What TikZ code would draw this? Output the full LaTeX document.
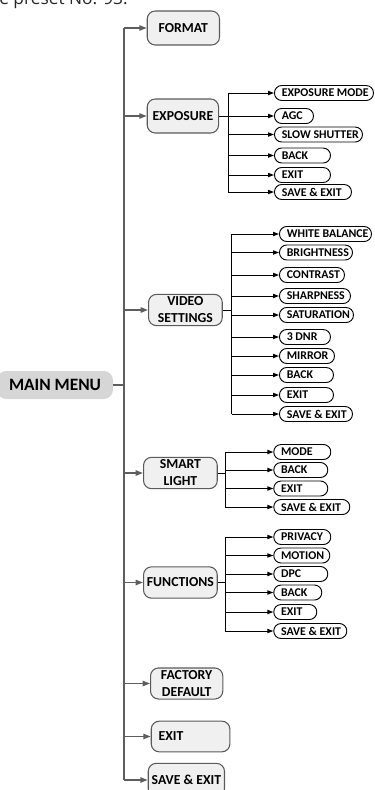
\documentclass[tikz,border=0pt]{standalone}
\usepackage{fontspec}
\setmainfont{Carlito}
\newfontfamily\pagefont{Open Sans}
\usetikzlibrary{arrows.meta}
\definecolor{boxgray}{HTML}{F0F0F0}
\definecolor{edgegray}{HTML}{5A5A5A}
\definecolor{menugray}{HTML}{D6D6D6}
\definecolor{trunkgray}{HTML}{5E5E5E}
\newcommand{\itemcol}[3]{%
  \foreach \y/\w/\lbl [count=\k] in {#3} {
    \pgfmathsetmacro{\tw}{\w*0.75-11}
    \node[itembox] (#1\k) at (#2,\y) {\makebox[\tw pt][l]{\lbl}};
  }
}
\newcommand{\fanout}[4]{%
  \draw[subline] (#1.east) -- (#1.east -| #2);
  \draw[subline] (#2 |- #31.west) -- (#2 |- #3#4.west);
  \foreach \k in {1,...,#4} {
    \draw[sublink] (#2 |- #3\k.west) -- (#3\k.west);
  }
}

\begin{document}
\begin{tikzpicture}[x=0.75pt,y=-0.75pt,
  topbox/.style={draw=edgegray,fill=boxgray,line width=0.8pt,rounded corners=6pt,
    anchor=west,inner sep=1pt,align=center,
    font=\fontsize{10.3}{12.75}\selectfont\bfseries},
  itembox/.style={draw,fill=white,line width=0.7pt,rounded corners=5.5pt,
    anchor=west,inner xsep=5.5pt,inner ysep=0pt,minimum height=11.25pt,
    font=\fontsize{8.9}{10}\selectfont\bfseries},
  mainbox/.style={fill=menugray,rounded corners=7pt,inner sep=0pt,
    minimum width=87pt,minimum height=21pt,
    font=\fontsize{13}{15}\selectfont\bfseries},
  trunkline/.style={draw=trunkgray,line width=1.1pt},
  toplink/.style={trunkline,-{Triangle[length=5.5pt,width=4pt]}},
  subline/.style={line width=0.75pt},
  sublink/.style={subline,-{Triangle[length=4.5pt,width=3.2pt]}}]
  \useasboundingbox (0,0) rectangle (375,790);
  \clip (0,0) rectangle (375,790);

  \node[anchor=base west,inner sep=0pt,text=black!85,
    font=\pagefont\fontsize{13}{15}\selectfont] (pagetext) at (-1,4.5) {e preset No. 93.};

  % main menu and trunk
  \node[mainbox] (mainmenu) at (55,385) {MAIN MENU};
  \coordinate (trunk) at (124,0);

  \node[topbox,minimum width=54.2pt,minimum height=25.5pt] (format) at (146.7,28) {FORMAT};
  \node[topbox,minimum width=53.5pt,minimum height=25.5pt] (expo) at (146.7,116) {EXPOSURE};
  \node[topbox,minimum width=55.3pt,minimum height=23.5pt] (video) at (148,310) {VIDEO\\SETTINGS};
  \node[topbox,minimum width=55.3pt,minimum height=23.5pt] (smart) at (143,473) {SMART\\LIGHT};
  \node[topbox,minimum width=55.3pt,minimum height=23.5pt] (func) at (143,582.5) {FUNCTIONS};
  \node[topbox,minimum width=54.2pt,minimum height=23.3pt] (factory) at (150,683.5) {FACTORY\\DEFAULT};
  \node[topbox,inner xsep=5.5pt,minimum height=23pt] (exit) at (150.7,736.5) {\makebox[48pt][l]{EXIT}};
  \node[topbox,minimum width=57.2pt,minimum height=25pt] (saveexit) at (147.7,780) {SAVE \& EXIT};

  \draw[trunkline] (trunk |- format.west) -- (trunk |- saveexit.west);
  \draw[trunkline] (mainmenu.east) -- (mainmenu.east -| trunk);
  \foreach \n in {format,expo,video,smart,func,factory,exit,saveexit} {
    \draw[toplink] (trunk |- \n.west) -- (\n.west);
  }

  % sub menus
  \coordinate (exptrunk) at (228,0);
  \coordinate (vidtrunk) at (231.7,0);
  \coordinate (smtrunk) at (225,0);
  \coordinate (fntrunk) at (225,0);

  \itemcol{ex}{274}{93/99/EXPOSURE MODE, 116/39/AGC, 134.5/88/SLOW SHUTTER,
    155.5/56/BACK, 175/56/EXIT, 192/77/SAVE \& EXIT}
  \itemcol{vs}{279}{234/92/WHITE BALANCE, 252.5/73/BRIGHTNESS, 275/65/CONTRAST,
    296/71/SHARPNESS, 315/74/SATURATION, 337/51/3 DNR, 356/55/MIRROR,
    375/54/BACK, 395/54/EXIT, 414/73/SAVE \& EXIT}
  \itemcol{sl}{273.3}{452/57/MODE, 470/54/BACK, 488.5/54/EXIT, 507/76/SAVE \& EXIT}
  \itemcol{fn}{273.3}{537/57/PRIVACY, 555.5/56/MOTION, 574/54/DPC, 592.5/48/BACK,
    612/43/EXIT, 631/73/SAVE \& EXIT}

  \fanout{expo}{exptrunk}{ex}{6}
  \fanout{video}{vidtrunk}{vs}{10}
  \fanout{smart}{smtrunk}{sl}{4}
  \fanout{func}{fntrunk}{fn}{6}
\end{tikzpicture}
\end{document}
